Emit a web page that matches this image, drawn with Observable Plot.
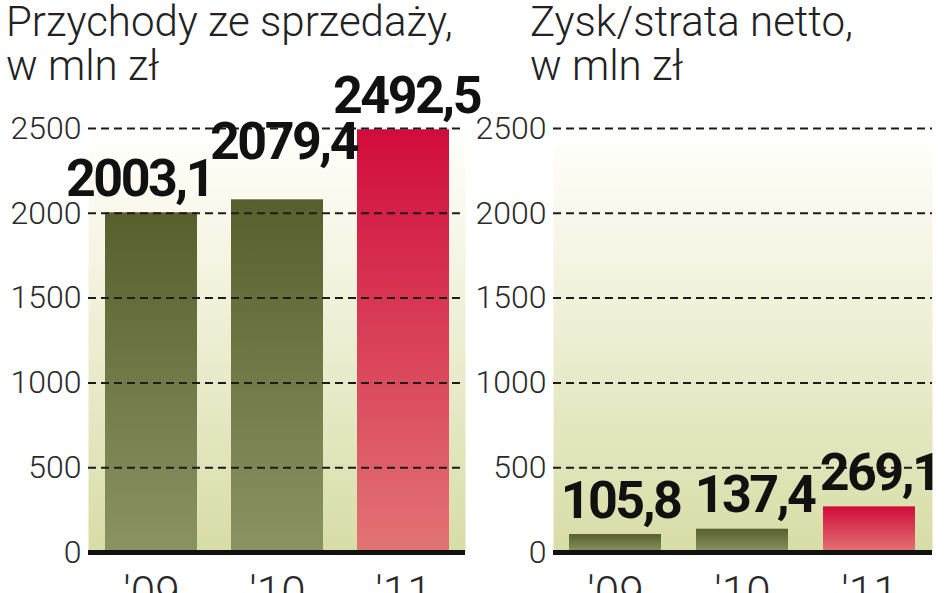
<!DOCTYPE html>
<html><head><meta charset="utf-8">
<script src="https://cdn.jsdelivr.net/npm/d3@7"></script>
<script src="https://cdn.jsdelivr.net/npm/@observablehq/plot@0.6"></script>
<style>
html,body{margin:0;padding:0;background:#fff;overflow:hidden}
#wrap{position:relative;width:948px;height:593px;overflow:hidden}
.panel{position:absolute;top:0;width:474px;height:593px}
.title{position:absolute;top:0;font-family:Roboto,sans-serif;font-weight:300;font-size:42px;line-height:44px;color:#222;z-index:3;white-space:nowrap;pointer-events:none}
.vlabel text{letter-spacing:-2.5px}
</style></head><body><div id="wrap"></div>
<script>
// ---- data ----
const years = ["'09", "'10", "'11"];
const revenue = [2003.1, 2079.4, 2492.5];
const profit = [105.8, 137.4, 269.1];
const yTicks = [0, 500, 1000, 1500, 2000, 2500];
const titleRevenue = ["Przychody ze sprzedaży,", "w mln zł"];
const titleProfit = ["Zysk/strata netto,", "w mln zł"];
const highlightYear = "'11";

// ---- drawing ----
const fmt = v => v.toFixed(1).replace(".", ",");
const svgns = "http://www.w3.org/2000/svg";
const wrap = document.getElementById("wrap");

function panel(id, values, title, cfg) {
  const data = years.map((year, i) => ({year, value: values[i]}));
  const defs = () => {
    const g = document.createElementNS(svgns, "defs");
    g.innerHTML = `
      <linearGradient id="bg${id}" x1="0" y1="0" x2="0" y2="1">
        <stop offset="0" stop-color="#ffffff"/>
        <stop offset="0.08" stop-color="#fdfdf6"/>
        <stop offset="1" stop-color="#d7dda6"/>
      </linearGradient>
      <linearGradient id="ol${id}" x1="0" y1="0" x2="0" y2="1">
        <stop offset="0" stop-color="#57602c"/>
        <stop offset="1" stop-color="#8b9363"/>
      </linearGradient>
      <linearGradient id="rd${id}" x1="0" y1="0" x2="0" y2="1">
        <stop offset="0" stop-color="#d10c3c"/>
        <stop offset="1" stop-color="#e27474"/>
      </linearGradient>`;
    return g;
  };
  const plot = Plot.plot({
    width: 474, height: 593,
    marginTop: 128, marginBottom: 41, marginLeft: cfg.ml, marginRight: cfg.mr,
    style: {background: "transparent", overflow: "visible", fontFamily: "Roboto, sans-serif"},
    x: {domain: years, paddingInner: 0.273, paddingOuter: 0.126, axis: null},
    y: {domain: [0, 2500], axis: null},
    marks: [
      defs,
      Plot.frame({fill: `url(#bg${id})`, stroke: null}),
      Plot.barY(data.filter(d => d.year !== highlightYear), {x: "year", y: "value", fill: `url(#ol${id})`}),
      Plot.barY(data.filter(d => d.year === highlightYear), {x: "year", y: "value", fill: `url(#rd${id})`}),
      Plot.ruleY(yTicks.filter(t => t > 0), {stroke: "#1c1c1c", strokeWidth: 2, strokeDasharray: "8,5"}),
      Plot.ruleY([0], {stroke: "#111", strokeWidth: 5}),
      Plot.axisY(yTicks, {tickSize: 0, tickPadding: 7, tickFormat: d => String(d), fontSize: 32, fontWeight: 300, fill: "#2a2a2a", label: null}),
      Plot.axisX({tickSize: 0, tickPadding: 24, fontSize: 44, fontWeight: 300, fill: "#2a2a2a", label: null}),
      ...data.map((d, i) => Plot.text([d], {
        x: "year", y: "value", text: d => fmt(d.value),
        lineAnchor: "bottom", dx: cfg.nudge[i][0], dy: -17 + cfg.nudge[i][1],
        fontSize: 52, fontWeight: "bold", fontFamily: "Roboto, sans-serif", fill: "#111",
        className: "vlabel"
      }))
    ]
  });
  const div = document.createElement("div");
  div.className = "panel";
  div.style.left = cfg.left + "px";
  div.appendChild(plot);
  const t = document.createElement("div");
  t.className = "title";
  t.style.left = cfg.tx + "px";
  t.innerHTML = title.join("<br>");
  div.appendChild(t);
  wrap.appendChild(div);
}

panel("L", revenue, titleRevenue, {left: 0, ml: 88, mr: 9, tx: 6, nudge: [[-12, 0], [6, -24], [3, 0]]});
panel("R", profit, titleProfit, {left: 474, ml: 79, mr: 16, tx: 56, nudge: [[5, 0], [12, 0], [10, 0]]});
</script></body></html>
